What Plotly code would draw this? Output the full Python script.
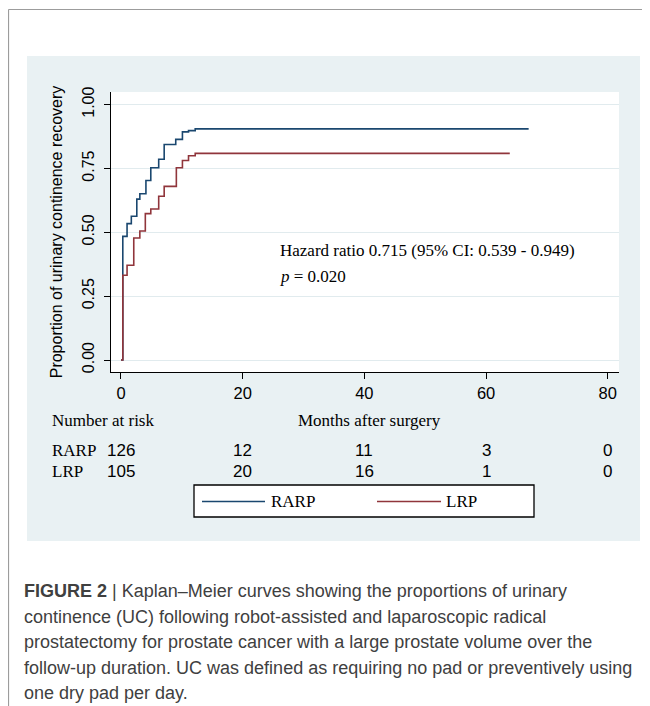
import plotly.graph_objects as go

# ---- data ----
rarp_months = [0, 0.3, 1.0, 1.7, 2.6, 3.1, 4.1, 4.9, 6.2, 7.1, 9.0, 10.1, 11.1, 12.2, 67.0]
rarp_prop = [0, 0.484, 0.534, 0.563, 0.630, 0.651, 0.703, 0.753, 0.786, 0.844, 0.864, 0.893, 0.898, 0.905, 0.905]
lrp_months = [0, 0.3, 1.0, 2.1, 3.1, 4.0, 4.9, 6.2, 7.1, 9.1, 10.1, 11.1, 12.2, 63.9]
lrp_prop = [0, 0.332, 0.371, 0.478, 0.505, 0.573, 0.591, 0.641, 0.680, 0.753, 0.781, 0.800, 0.809, 0.809]

risk_times = [0, 20, 40, 60, 80]
rarp_at_risk = [126, 12, 11, 3, 0]
lrp_at_risk = [105, 20, 16, 1, 0]

x_ticks = [0, 20, 40, 60, 80]
y_ticks = [0, 0.25, 0.5, 0.75, 1.0]
y_tick_labels = ["0.00", "0.25", "0.50", "0.75", "1.00"]

series_names = ["RARP", "LRP"]
hazard_text = "Hazard ratio 0.715 (95% CI: 0.539 - 0.949)"
p_text = "<i>p</i> = 0.020"
caption_lines = [
    "<b>FIGURE 2</b> | Kaplan\u2013Meier curves showing the proportions of urinary",
    "continence (UC) following robot-assisted and laparoscopic radical",
    "prostatectomy for prostate cancer with a large prostate volume over the",
    "follow-up duration. UC was defined as requiring no pad or preventively using",
    "one dry pad per day.",
]

# ---- layout geometry ----
# the page body has an 8px margin, so the figure starts at (8, 8) on screen
OFF = 8
W, H = 642, 698
L, R, T, B = 103, 31, 84, 334
PW, PH = W - L - R, H - T - B

def sx(x):  # screen x (px) -> paper x
    return (x - OFF - L) / PW

def sy(y):  # screen y (px) -> paper y
    return (H - B - (y - OFF)) / PH

NAVY = "#1A476F"
MAROON = "#90353B"
PANEL = "#E9F1F3"
GRID = "#E1EBEE"
SERIF = "Liberation Serif, Times New Roman, serif"
SANS = "Liberation Sans, Arial, sans-serif"

fig = go.Figure()
fig.add_trace(go.Scatter(x=rarp_months, y=rarp_prop, mode="lines", name=series_names[0],
                         line=dict(color=NAVY, width=1.6, shape="hv"), showlegend=False))
fig.add_trace(go.Scatter(x=lrp_months, y=lrp_prop, mode="lines", name=series_names[1],
                         line=dict(color=MAROON, width=1.6, shape="hv"), showlegend=False))

shapes = [
    # outer frame
    dict(type="line", xref="paper", yref="paper", x0=sx(8.5), x1=sx(660), y0=sy(9.5), y1=sy(9.5),
         line=dict(color="#9c9c9c", width=1.2), layer="below"),
    dict(type="line", xref="paper", yref="paper", x0=sx(8.5), x1=sx(8.5), y0=sy(9.5), y1=sy(720),
         line=dict(color="#9c9c9c", width=1.2), layer="below"),
    # graph panel
    dict(type="rect", xref="paper", yref="paper", x0=sx(27), x1=sx(640), y0=sy(56), y1=sy(541),
         fillcolor=PANEL, line=dict(width=0), layer="below"),
    dict(type="rect", xref="paper", yref="paper", x0=0, x1=1, y0=0, y1=1,
         fillcolor="white", line=dict(width=0), layer="below"),
    # legend box
    dict(type="rect", xref="paper", yref="paper", x0=sx(194), x1=sx(534), y0=sy(485), y1=sy(517),
         fillcolor="white", line=dict(color="black", width=1.3)),
    dict(type="line", xref="paper", yref="paper", x0=sx(202), x1=sx(265), y0=sy(501.5), y1=sy(501.5),
         line=dict(color=NAVY, width=1.6)),
    dict(type="line", xref="paper", yref="paper", x0=sx(377), x1=sx(441), y0=sy(501.5), y1=sy(501.5),
         line=dict(color=MAROON, width=1.6)),
]

ann = []
def add_text(text, x, y, size=17, family=SERIF, xanchor="left", xref="paper", color="black"):
    ann.append(dict(text=text, x=x, y=y, xref=xref, yref="paper", xanchor=xanchor, yanchor="middle",
                    showarrow=False, font=dict(family=family, size=size, color=color)))

add_text(hazard_text, sx(278), sy(250))
add_text(p_text, sx(278), sy(276))
add_text("Number at risk", sx(50), sy(420))
add_text("Months after surgery", sx(369), sy(420), xanchor="center")
add_text(series_names[0], sx(50), sy(451))
add_text(series_names[1], sx(50), sy(471))
for t, a, b in zip(risk_times, rarp_at_risk, lrp_at_risk):
    add_text(str(a), t, sy(451), family=SANS, xanchor="center", xref="x")
    add_text(str(b), t, sy(471), family=SANS, xanchor="center", xref="x")
add_text(series_names[0], sx(269), sy(501))
add_text(series_names[1], sx(444), sy(501))
cap_y = [591, 617, 642, 668, 693]
for line, yy in zip(caption_lines, cap_y):
    add_text(line, sx(22), sy(yy), size=18, family=SANS, color="#404040")

fig.update_layout(
    width=W, height=H,
    margin=dict(l=L, r=R, t=T, b=B, pad=0),
    paper_bgcolor="white", plot_bgcolor="white",
    shapes=shapes, annotations=ann, showlegend=False,
    xaxis=dict(range=[-1.64, 81.85], tickvals=x_ticks, ticks="outside", ticklen=6, tickwidth=1.3,
               tickcolor="black", showline=True, linecolor="black", linewidth=1.3, showgrid=False,
               zeroline=False, tickfont=dict(family=SANS, size=16.5, color="black")),
    yaxis=dict(range=[-0.0469, 1.0493], tickvals=y_ticks, ticktext=y_tick_labels, tickangle=-90,
               ticks="outside", ticklen=6, tickwidth=1.3, tickcolor="black", showline=True,
               linecolor="black", linewidth=1.3, showgrid=True, gridcolor=GRID, gridwidth=1.4,
               zeroline=False, ticklabelstandoff=3, tickfont=dict(family=SANS, size=16, color="black"),
               title=dict(text="Proportion of urinary continence recovery",
                          font=dict(family=SANS, size=16, color="black"), standoff=13)),
)

fig.write_html("out.html")
